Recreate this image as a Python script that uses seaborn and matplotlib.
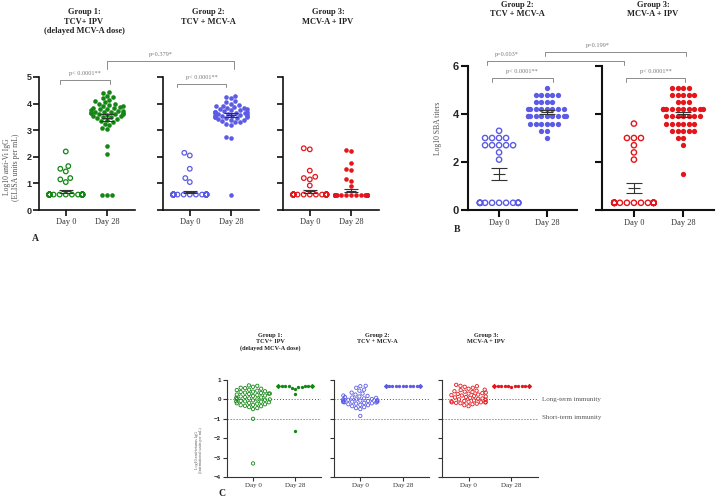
import numpy as np
import pandas as pd
import matplotlib.pyplot as plt
from matplotlib.lines import Line2D
import seaborn as sns

# ---- data ------------------------------------------------------------------
DAYS = ["Day 0", "Day 28"]

# Panel A: log10 anti-Vi IgG (ELISA units per mL)
vi_g1_d0 = [0.58] * 46 + [1.05, 1.15, 1.2, 1.45, 1.55, 1.65, 2.2]
vi_g1_d28 = [4.45, 4.38, 4.3, 4.25, 4.2, 4.15, 4.1, 4.05, 4.0, 3.98, 3.95,
             3.92, 3.9, 3.88, 3.85, 3.83, 3.8, 3.78, 3.75, 3.74, 3.72, 3.7,
             3.7, 3.68, 3.66, 3.65, 3.63, 3.62, 3.6, 3.6, 3.58, 3.55, 3.52,
             3.5, 3.48, 3.45, 3.42, 3.4, 3.35, 3.3, 3.25, 3.2, 3.1, 3.05,
             2.42, 2.12, 0.58, 0.58, 0.58]
vi_g2_d0 = [0.58] * 48 + [1.05, 1.2, 1.55, 2.05, 2.15]
vi_g2_d28 = [4.3, 4.25, 4.2, 4.1, 4.05, 4.0, 3.95, 3.92, 3.9, 3.88, 3.85,
             3.82, 3.8, 3.78, 3.76, 3.75, 3.72, 3.7, 3.7, 3.68, 3.67, 3.65,
             3.64, 3.62, 3.6, 3.6, 3.58, 3.57, 3.55, 3.54, 3.52, 3.5, 3.5,
             3.48, 3.46, 3.45, 3.42, 3.4, 3.38, 3.35, 3.32, 3.3, 3.25, 3.2,
             2.75, 2.7, 0.58]
vi_g3_d0 = [0.58] * 47 + [0.92, 1.15, 1.2, 1.25, 1.48, 2.28, 2.32]
vi_g3_d28 = [0.58] * 44 + [0.9, 1.1, 1.15, 1.5, 1.55, 1.75, 2.2, 2.25]

# Panel B: log10 SBA titers
sba_g2_d0 = [0.3] * 13 + [2.1, 2.4] + [2.7] * 5 + [3.0] * 4 + [3.3]
sba_g2_d28 = ([3.0] + [3.3] * 2 + [3.6] * 6 + [3.9] * 10 + [4.2] * 8
              + [4.5] * 4 + [4.8] * 5 + [5.1])
sba_g3_d0 = [0.3] * 22 + [2.1, 2.4, 2.7] + [3.0] * 3 + [3.6]
sba_g3_d28 = ([1.5, 2.7] + [3.0] * 2 + [3.3] * 5 + [3.6] * 6 + [3.9] * 7
              + [4.2] * 10 + [4.5] * 3 + [4.8] * 5 + [5.1] * 4)

# Panel C: log10 anti-tetanus IgG (international units per mL)
tt_g1_d0 = [0.72, 0.7, 0.65, 0.6, 0.58, 0.55, 0.5, 0.48, 0.45, 0.42, 0.4,
            0.38, 0.35, 0.33, 0.3, 0.3, 0.28, 0.25, 0.22, 0.2, 0.18, 0.15,
            0.12, 0.1, 0.08, 0.05, 0.02, 0.0, 0.0, -0.02, -0.05, -0.08, -0.1,
            -0.1, -0.12, -0.15, -0.18, -0.2, -0.22, -0.25, -0.28, -0.3, -0.33,
            -0.35, -0.4, -0.45, -0.5, -1.0, -3.3]
tt_g1_d28 = [0.7] * 40 + [0.65, 0.62, 0.6, 0.55, 0.28, -1.65]
tt_g2_d0 = [0.7, 0.68, 0.6, 0.5, 0.45, 0.35, 0.3, 0.25, 0.2, 0.18, 0.15,
            0.12, 0.1, 0.08, 0.05, 0.02, 0.0, 0.0, -0.02, -0.04, -0.05, -0.06,
            -0.08, -0.1, -0.1, -0.12, -0.12, -0.14, -0.15, -0.16, -0.18, -0.2,
            -0.22, -0.25, -0.28, -0.3, -0.35, -0.4, -0.45, -0.5, -0.85]
tt_g2_d28 = [0.7] * 45
tt_g3_d0 = [0.75, 0.7, 0.68, 0.65, 0.6, 0.55, 0.5, 0.48, 0.45, 0.42, 0.4,
            0.38, 0.35, 0.32, 0.3, 0.28, 0.25, 0.22, 0.2, 0.18, 0.15, 0.12,
            0.1, 0.08, 0.05, 0.03, 0.0, -0.02, -0.05, -0.08, -0.1, -0.12,
            -0.15, -0.15, -0.15, -0.15, -0.18, -0.2, -0.22, -0.25, -0.3, -0.35]
tt_g3_d28 = [0.7] * 45 + [0.62]

TITLES_3 = ["Group 1:\nTCV+ IPV\n(delayed MCV-A dose)",
            "Group 2:\nTCV + MCV-A",
            "Group 3:\nMCV-A + IPV"]
TITLES_B = ["Group 2:\nTCV + MCV-A", "Group 3:\nMCV-A + IPV"]

GREEN = "#138613"
BLUE = "#5b5be6"
RED = "#e4161b"
BAR = "#333333"
GREY = "#777777"

W, H = 716, 499

sns.set_style("ticks")
plt.rcParams["font.family"] = ["Liberation Serif", "DejaVu Serif"]

fig = plt.figure(figsize=(W / 100, H / 100), dpi=100)


def add_ax(left, top, width, height):
    """Axes placed in pixel units measured from the top-left corner."""
    return fig.add_axes([left / W, 1 - (top + height) / H, width / W, height / H])


def to_fig(ax, x, y):
    return fig.transFigure.inverted().transform(ax.transData.transform((x, y)))


def px_text(x, y, s, **kw):
    fig.text(x / W, 1 - y / H, s, **kw)


def draw_group(ax, d0, d28, color, st, ylim, yticks, show_ylabels, bars=True):
    df = pd.DataFrame({"day": [DAYS[0]] * len(d0) + [DAYS[1]] * len(d28),
                       "value": list(d0) + list(d28)})
    sns.swarmplot(data=df, x="day", y="value", order=DAYS, color=color,
                  size=st["size"], linewidth=0, warn_thresh=1, ax=ax)
    pts = list(ax.collections)
    pts[0].set_facecolor("none")
    pts[0].set_edgecolor(color)
    pts[0].set_linewidth(st["open_lw"])
    for p in pts:
        p.set_clip_on(False)

    # mean with SEM
    if bars:
        for i, vals in enumerate([d0, d28]):
            v = np.asarray(vals, dtype=float)
            m = v.mean()
            se = v.std(ddof=1) / np.sqrt(len(v))
            ax.hlines(m, i - 0.12, i + 0.12, color=BAR, lw=0.8, zorder=6)
            ax.vlines(i, m - se, m + se, color=BAR, lw=0.8, zorder=6)
            ax.hlines([m - se, m + se], i - 0.17, i + 0.17, color=BAR,
                      lw=0.8, zorder=6)

    ax.set_xlim(st["xlim"])
    ax.set_ylim(ylim)
    ax.set_yticks(yticks)
    ax.set_xlabel("")
    ax.set_ylabel("")
    sns.despine(ax=ax)
    for side in ("left", "bottom"):
        ax.spines[side].set_linewidth(st["spine_lw"])
        ax.spines[side].set_color(st["spine_c"])
    ax.tick_params(axis="both", length=st["tick_len"], width=st["spine_lw"],
                   color=st["spine_c"], pad=1.5)
    ax.tick_params(axis="y", labelsize=st["ytick_fs"],
                   labelfontfamily="Liberation Sans")
    ax.tick_params(axis="x", labelsize=st["day_fs"], labelcolor="#333333")
    for lab in ax.get_yticklabels():
        lab.set_fontweight("bold")
    if not show_ylabels:
        ax.set_yticklabels([])


def bracket(ax_a, xa, ax_b, xb, y, text, drop, text_x=None, fs=4.5):
    x0, y0 = to_fig(ax_a, xa, y)
    x1, _ = to_fig(ax_b, xb, y)
    dy = drop / H
    fig.add_artist(Line2D([x0, x0, x1, x1], [y0 - dy, y0, y0, y0 - dy],
                          transform=fig.transFigure, color="#8c8c8c", lw=0.7))
    tx = (x0 + x1) / 2 if text_x is None else to_fig(ax_a, text_x, y)[0]
    fig.text(tx, y0 + 4 / H, text, ha="center", va="bottom", fontsize=fs,
             color=GREY)


# ---- panel A ----------------------------------------------------------------
st_a = dict(size=3.3, open_lw=0.9, spine_lw=1.2, spine_c="#111111", tick_len=4,
            ytick_fs=6.5, day_fs=6, xlim=(-0.65, 1.68))
a_axes = [add_ax(39, 77, 96, 133), add_ax(163, 77, 96, 133),
          add_ax(283, 77, 96, 133)]
a_data = [(vi_g1_d0, vi_g1_d28, GREEN), (vi_g2_d0, vi_g2_d28, BLUE),
          (vi_g3_d0, vi_g3_d28, RED)]
for i, (ax, (d0, d28, c)) in enumerate(zip(a_axes, a_data)):
    draw_group(ax, d0, d28, c, st_a, (0, 5), range(0, 6), i == 0)
for ax, title in zip(a_axes, TITLES_3):
    pos = ax.get_position()
    fig.text((pos.x0 + pos.x1) / 2 - 3 / W, 1 - 8 / H, title, ha="center",
             va="top", fontsize=6, fontweight="bold", color="#222222",
             linespacing=1.25)
px_text(11.5, 167, "Log10 anti-Vi IgG\n(ELISA units per mL)", rotation=90,
        ha="center", va="center", fontsize=5.5, color="#555555",
        linespacing=1.1)
px_text(35, 239, "A", ha="center", va="center", fontsize=7, fontweight="bold")
bracket(a_axes[0], -0.15, a_axes[0], 1.07, 4.88, "p< 0.0001**", 3.5)
bracket(a_axes[1], -0.31, a_axes[1], 0.88, 4.74, "p< 0.0001**", 3.5)
bracket(a_axes[0], 1.0, a_axes[1], 1.07, 5.6, "p=0.379*", 8, text_x=2.31)

# ---- panel B ----------------------------------------------------------------
st_b = dict(size=3.8, open_lw=1.0, spine_lw=1.5, spine_c="#111111", tick_len=5,
            ytick_fs=8, day_fs=6, xlim=(-0.65, 1.63))
b_axes = [add_ax(468, 66, 109, 144), add_ax(602, 66, 112, 144)]
b_data = [(sba_g2_d0, sba_g2_d28, BLUE), (sba_g3_d0, sba_g3_d28, RED)]
for i, (ax, (d0, d28, c)) in enumerate(zip(b_axes, b_data)):
    draw_group(ax, d0, d28, c, st_b, (0, 6), range(0, 7, 2), i == 0)
for ax, title in zip(b_axes, TITLES_B):
    pos = ax.get_position()
    fig.text((pos.x0 + pos.x1) / 2 - 5 / W, 1 - 1 / H, title, ha="center",
             va="top", fontsize=6, fontweight="bold", color="#222222",
             linespacing=1.25)
px_text(438, 128, "Log10 SBA titers", rotation=90, ha="center", va="center",
        fontsize=5.5, color="#555555")
px_text(457, 230, "B", ha="center", va="center", fontsize=7, fontweight="bold")
bracket(b_axes[0], -0.15, b_axes[0], 1.12, 5.5, "p< 0.0001**", 3.5)
bracket(b_axes[1], -0.16, b_axes[1], 1.04, 5.5, "p< 0.0001**", 3.5)
bracket(b_axes[0], -0.25, b_axes[1], -0.2, 6.2, "p=0.003*", 4, text_x=0.17)
bracket(b_axes[0], 0.96, b_axes[1], 1.06, 6.58, "p=0.199*", 4, text_x=2.06)

# ---- panel C ----------------------------------------------------------------
st_c = dict(size=2.4, open_lw=0.6, spine_lw=0.8, spine_c="#333333", tick_len=3,
            ytick_fs=4.5, day_fs=5, xlim=(-0.62, 1.62))
c_axes = [add_ax(227, 380, 94, 97), add_ax(334, 380, 95, 97),
          add_ax(442, 380, 96, 97)]
c_data = [(tt_g1_d0, tt_g1_d28, GREEN), (tt_g2_d0, tt_g2_d28, BLUE),
          (tt_g3_d0, tt_g3_d28, RED)]
for i, (ax, (d0, d28, c)) in enumerate(zip(c_axes, c_data)):
    draw_group(ax, d0, d28, c, st_c, (-4, 1), range(-4, 2), i == 0, bars=False)
    ax.axhline(0, color="#555555", lw=0.7, ls=(0, (1, 2)), zorder=1)
    ax.axhline(-1, color="#888888", lw=0.6, ls=(0, (2, 1.5)), zorder=1)
for ax, title in zip(c_axes, TITLES_3):
    pos = ax.get_position()
    fig.text((pos.x0 + pos.x1) / 2 - 4 / W, 1 - 333 / H, title, ha="center",
             va="top", fontsize=4.5, fontweight="bold", color="#222222",
             linespacing=1.3)
px_text(542, 399, "Long-term immunity", ha="left", va="center", fontsize=5,
        color="#555555")
px_text(542, 418, "Short-term immunity", ha="left", va="center", fontsize=5,
        color="#555555")
px_text(199, 450, "Log10 anti-tetanus IgG\n(International units per mL)",
        rotation=90, ha="center", va="center", fontsize=3, color="#555555",
        linespacing=1.1)
px_text(222, 494, "C", ha="center", va="center", fontsize=7, fontweight="bold")

fig.savefig("out.png", dpi=100)
